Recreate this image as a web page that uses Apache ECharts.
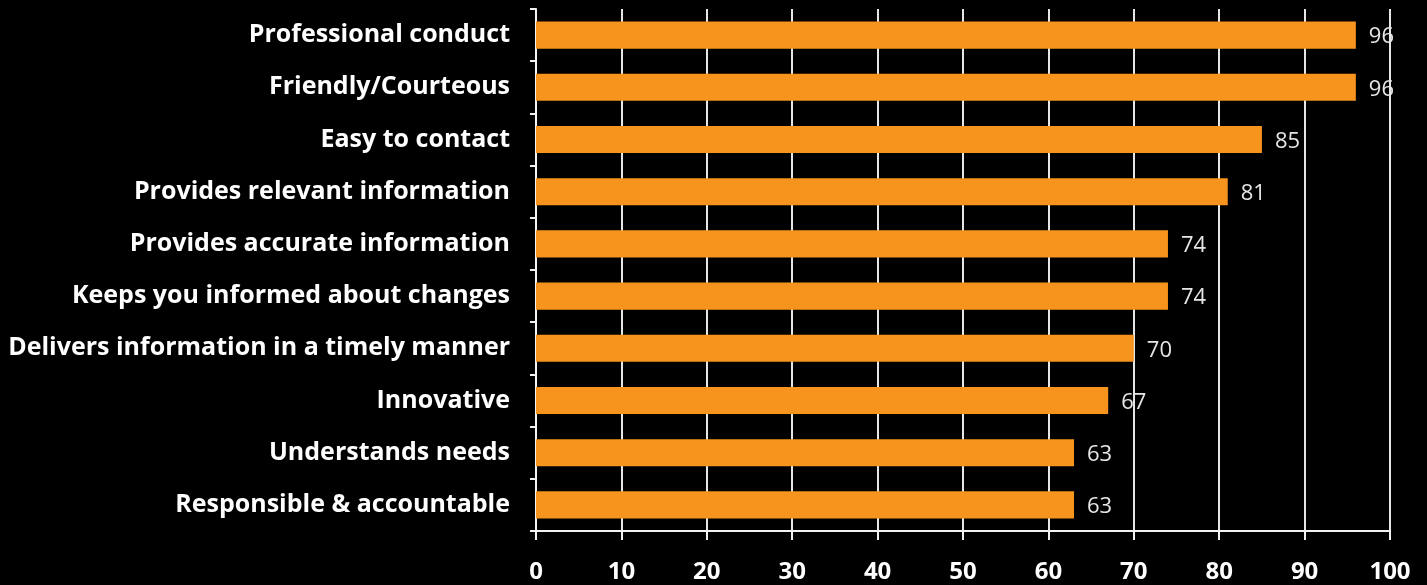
<!DOCTYPE html>
<html><head><meta charset="utf-8">
<script src="https://cdn.jsdelivr.net/npm/echarts@6/dist/echarts.min.js"></script>
<style>html,body{margin:0;padding:0;background:#000;}#c{width:1427px;height:585px;}</style>
</head><body><div id="c"></div>
<script>
const categories = ["Professional conduct","Friendly/Courteous","Easy to contact","Provides relevant information","Provides accurate information","Keeps you informed about changes","Delivers information in a timely manner","Innovative","Understands needs","Responsible & accountable"];
const values = [96,96,85,81,74,74,70,67,63,63];
const xTicks = [0,10,20,30,40,50,60,70,80,90,100];

const chart = echarts.init(document.getElementById('c'));
chart.setOption({
  backgroundColor: '#000',
  animation: false,
  grid: {left: 536, right: 37, top: 9, bottom: 54, containLabel: false},
  xAxis: {
    type: 'value', min: xTicks[0], max: xTicks[xTicks.length-1], interval: 10,
    axisLine: {show: true, lineStyle: {color: '#f2f2f2', width: 2}},
    axisTick: {show: true, length: 9, inside: false, lineStyle: {color: '#f2f2f2', width: 2}},
    splitLine: {show: true, lineStyle: {color: '#e6e6e6', width: 2}},
    axisLabel: {color: '#fff', fontWeight: 'bold', fontSize: 24, fontFamily: 'Open Sans', margin: 29}
  },
  yAxis: {
    type: 'category', data: categories, inverse: true,
    axisLine: {show: true, lineStyle: {color: '#f2f2f2', width: 2}},
    axisTick: {show: true, length: 6, lineStyle: {color: '#f2f2f2', width: 2}},
    axisLabel: {color: '#fff', fontWeight: 'bold', fontSize: 25, fontFamily: 'Open Sans', margin: 26, padding: [5, 0, 0, 0]}
  },
  series: [{
    type: 'bar', data: values, barCategoryGap: '48%', z: 3,
    itemStyle: {color: '#F7941D'},
    label: {show: true, position: 'right', distance: 13, color: '#e6e6e6', fontSize: 22, fontFamily: 'Open Sans', offset: [0, 2]}
  }]
});
</script></body></html>
